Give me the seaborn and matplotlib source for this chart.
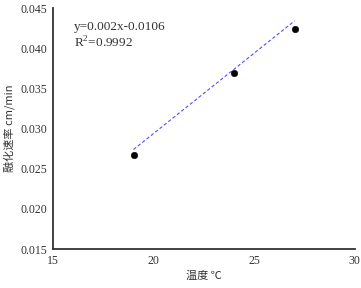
import matplotlib
matplotlib.use("Agg")
import matplotlib.pyplot as plt
import seaborn as sns
import numpy as np
import pandas as pd

temperature = [19, 24, 27]
melt_rate = [0.0267, 0.0369, 0.0424]
slope = 0.002
intercept = -0.0106
equation_text = "y=0.002x-0.0106"
r2_text = "R$^2$=0.9992"
xticks = [15, 20, 25, 30]
yticks = [0.015, 0.020, 0.025, 0.030, 0.035, 0.040, 0.045]

sns.set_style("white")
plt.rcParams['font.family'] = ['Liberation Serif', 'Noto Sans CJK SC', 'DejaVu Sans']
plt.rcParams['mathtext.fontset'] = 'custom'
plt.rcParams['mathtext.rm'] = 'Liberation Serif'

fig = plt.figure(figsize=(3.61, 2.88), dpi=100)
ax = fig.add_axes([0.147, 0.135, 0.836, 0.837])

df = pd.DataFrame({"t": temperature, "r": melt_rate})
fit_x = np.array([min(temperature), max(temperature)])
fit_df = pd.DataFrame({"t": fit_x, "r": slope * fit_x + intercept})

sns.lineplot(data=fit_df, x="t", y="r", ax=ax, color="#5050ff", linestyle=(0, (3, 2)), linewidth=0.8)
sns.scatterplot(data=df, x="t", y="r", ax=ax, color="black", s=22, edgecolor="black", zorder=3)

ax.set_xlim(15, 30)
ax.set_ylim(0.015, 0.045)
ax.set_xticks(xticks)
ax.set_yticks(yticks)
ax.set_xticklabels([str(v) for v in xticks], fontsize=8.5, color="#333333")
ax.set_yticklabels([f"{v:.3f}" for v in yticks], fontsize=8.5, color="#333333")
ax.tick_params(length=0, pad=4)

for s in ["top", "right"]:
    ax.spines[s].set_visible(False)
for s in ["left", "bottom"]:
    ax.spines[s].set_color("#333333")
    ax.spines[s].set_linewidth(1.3)

ax.set_xlabel("温度 ℃", fontsize=8, color="#333333", family=['Noto Sans CJK SC', 'DejaVu Sans'], labelpad=3)
ax.set_ylabel("融化速率 cm/min", fontsize=8, color="#333333", family=['Noto Sans CJK SC', 'DejaVu Sans'], labelpad=4)

ax.text(0.07, 0.92, equation_text, transform=ax.transAxes, fontsize=9.5, color="#333333", va="center")
ax.text(0.07, 0.855, r2_text, transform=ax.transAxes, fontsize=9.5, color="#333333", va="center")

fig.savefig("out.png", dpi=100)
